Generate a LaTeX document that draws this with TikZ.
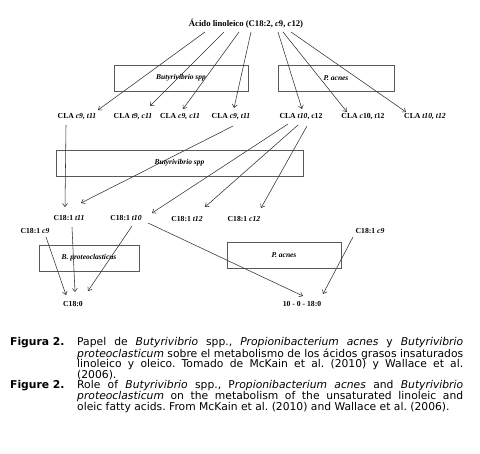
\documentclass[tikz,border=0pt]{standalone}
\usepackage{fontspec}
\setmainfont{Liberation Serif}
\newfontfamily\capfont{DejaVu Sans}
\usetikzlibrary{arrows.meta}
\frenchspacing
\begin{document}
\begin{tikzpicture}[x=1bp,y=-1bp,
  lbl/.style={font=\fontsize{7.7}{8}\selectfont\bfseries, inner sep=0pt, anchor=center},
  box/.style={draw=black!65, line width=0.8bp, inner sep=0pt, font=\fontsize{7.5}{8}\selectfont\bfseries\itshape},
  arr/.style={draw=black!80, line width=0.55bp, -{Straight Barb[length=3.2bp,width=5bp]}},
  capt/.style={font=\capfont\fontsize{10.8}{10.6}\selectfont, inner sep=0pt, anchor=north west},
]
\useasboundingbox (0,0) rectangle (480,454);
\fill[white] (0,0) rectangle (480,454);

% nodes
\node[lbl, font=\fontsize{8.7}{9}\selectfont\bfseries] (title) at (246,24) {Ácido linoleico (C18:2, \textit{c}9, \textit{c}12)};
\node[box, minimum width=134bp, minimum height=26bp] (bbox1) at (181,78) {Butyrivibrio spp};
\node[box, minimum width=116bp, minimum height=26bp] (pbox1) at (336,78) {P. acnes};

\node[lbl] (cla1) at (77,117) {CLA \textit{c9, t11}};
\node[lbl] (cla2) at (133,117) {CLA \textit{t9, c11}};
\node[lbl] (cla3) at (180,117) {CLA \textit{c9, c11}};
\node[lbl] (cla4) at (231,117) {CLA \textit{c9, t11}};
\node[lbl] (cla5) at (301,117) {CLA \textit{t10}, c12};
\node[lbl] (cla6) at (363,117) {CLA \textit{c}10, \textit{t}12};
\node[lbl] (cla7) at (425,117) {CLA \textit{t10, t12}};

\node[box, minimum width=247bp, minimum height=26bp] (bbox2) at (179.5,163) {Butyrivibrio spp};

\node[lbl] (c18t11) at (69,218) {C18:1 \textit{t11}};
\node[lbl] (c18t10) at (126,218) {C18:1 \textit{t10}};
\node[lbl] (c18t12) at (187,219) {C18:1 \textit{t12}};
\node[lbl] (c18c12) at (244,219) {C18:1 \textit{c12}};
\node[lbl] (c9L) at (35,231) {C18:1 \textit{c9}};
\node[lbl] (c9R) at (370,231) {C18:1 \textit{c9}};

\node[box, minimum width=100bp, minimum height=26bp] (bpbox) at (89,258) {B. proteoclasticus};
\node[box, minimum width=114bp, minimum height=26bp] (pbox2) at (284,255) {P. acnes};

\node[lbl] (c180) at (73,304) {C18:0};
\node[lbl] (fin) at (302,304) {10 - 0 - 18:0};

% first stage
\draw[arr] ([xshift=-41bp,yshift=-8bp]title.center) -- ([xshift=21bp,yshift=7bp]cla1.center);
\draw[arr] ([xshift=-22bp,yshift=-8bp]title.center) -- ([xshift=17bp,yshift=11bp]cla2.center);
\draw[arr] ([xshift=-7bp,yshift=-8bp]title.center) -- ([xshift=3bp,yshift=8bp]cla3.center);
\draw[arr] ([xshift=5bp,yshift=-8bp]title.center) -- ([xshift=3bp,yshift=9bp]cla4.center);
\draw[arr] ([xshift=32bp,yshift=-8bp]title.center) -- ([xshift=1bp,yshift=8bp]cla5.center);
\draw[arr] ([xshift=37bp,yshift=-8bp]title.center) -- ([xshift=-16bp,yshift=5bp]cla6.center);
\draw[arr] ([xshift=45bp,yshift=-8bp]title.center) -- ([xshift=-19bp,yshift=5bp]cla7.center);

% second stage
\draw[arr] ([xshift=-11bp,yshift=-8bp]cla1.center) -- ([xshift=-4bp,yshift=11bp]c18t11.center);
\draw[arr] ([xshift=2bp,yshift=-9bp]cla4.center) -- ([xshift=12bp,yshift=15bp]c18t11.center);
\draw[arr] ([xshift=-13bp,yshift=-7bp]cla5.center) -- ([xshift=26bp,yshift=5bp]c18t10.center);
\draw[arr] ([xshift=-3bp,yshift=-8bp]cla5.center) -- ([xshift=18bp,yshift=12bp]c18t12.center);
\draw[arr] ([xshift=6bp,yshift=-9bp]cla5.center) -- ([xshift=17bp,yshift=11bp]c18c12.center);

% third stage
\draw[arr] ([xshift=11bp,yshift=-6bp]c9L.center) -- ([xshift=-7bp,yshift=9bp]c180.center);
\draw[arr] ([xshift=3bp,yshift=-9bp]c18t11.center) -- ([xshift=2bp,yshift=12bp]c180.center);
\draw[arr] ([xshift=6bp,yshift=-8bp]c18t10.center) -- ([xshift=15bp,yshift=13bp]c180.center);
\draw[arr] ([xshift=22bp,yshift=-5bp]c18t10.center) -- ([xshift=1bp,yshift=8bp]fin.center);
\draw[arr] ([xshift=-17bp,yshift=-6bp]c9R.center) -- ([xshift=21bp,yshift=10bp]fin.center);

% caption
\node[capt, text width=453bp, align=justify] (caption) at (10,337) {%
\hangindent=67bp \hangafter=1 \noindent\makebox[67bp][l]{\bfseries Figura 2.}Papel de \textit{Butyrivibrio} spp., \textit{Propionibacterium acnes} y \textit{Butyrivibrio}\linebreak \textit{proteoclasticum} sobre el metabolismo de los ácidos grasos insaturados\linebreak linoleico y oleico. Tomado de McKain et al. (2010) y Wallace et al.\linebreak (2006).\par
\hangindent=67bp \hangafter=1 \noindent\makebox[67bp][l]{\bfseries Figure 2.}Role of \textit{Butyrivibrio} spp., P\textit{ropionibacterium acnes} and \textit{Butyrivibrio}\linebreak \textit{proteoclasticum} on the metabolism of the unsaturated linoleic and\linebreak oleic fatty acids. From McKain et al. (2010) and Wallace et al. (2006).\par};
\end{tikzpicture}
\end{document}
